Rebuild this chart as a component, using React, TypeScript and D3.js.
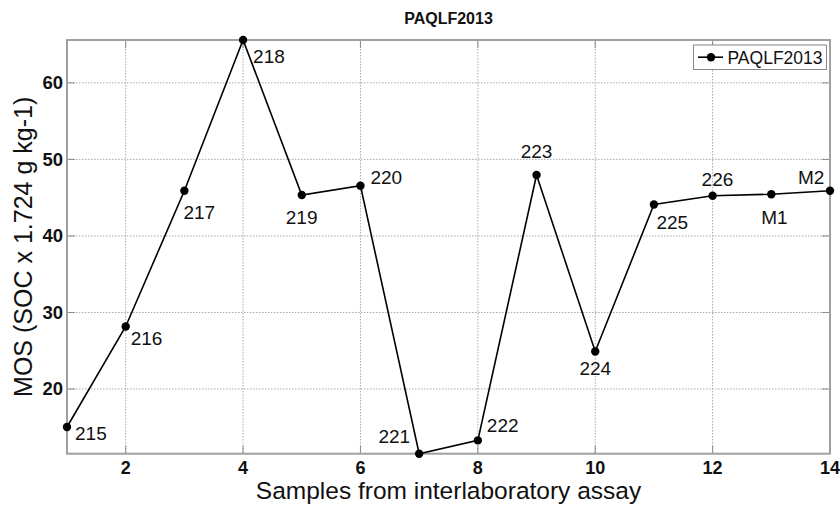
import React from "react";
import * as d3 from "d3";

const samples = [1, 2, 3, 4, 5, 6, 7, 8, 9, 10, 11, 12, 13, 14];
const mosValues = [15.04, 28.17, 45.9, 65.6, 45.35, 46.57, 11.55, 13.29, 47.96, 24.9, 44.1, 45.26, 45.45, 45.9];
const pointLabels = ["215", "216", "217", "218", "219", "220", "221", "222", "223", "224", "225", "226", "M1", "M2"];
const xTicks = [2, 4, 6, 8, 10, 12, 14];
const yTicks = [20, 30, 40, 50, 60];
const seriesName = "PAQLF2013";
const chartTitle = "PAQLF2013";
const xLabel = "Samples from interlaboratory assay";
const yLabel = "MOS (SOC x 1.724 g kg-1)";

// label placement (style): [dx, dy, anchor]
const labelPlacement: [number, number, string][] = [
  [8, 13.5, "start"],
  [5, 18.5, "start"],
  [-1, 28, "start"],
  [10, 23, "start"],
  [-16, 29, "start"],
  [10, -1.5, "start"],
  [-9, -10.5, "end"],
  [9, -8, "start"],
  [0, -17, "middle"],
  [0, 23.5, "middle"],
  [2.5, 24, "start"],
  [-11, -10, "start"],
  [-10, 30, "start"],
  [-32, -7, "start"],
];

const W = 840;
const H = 507;
const L = 67, R = 830, T = 40, B = 453.7;
const FONT = "'Liberation Sans', Arial, Helvetica, sans-serif";

export default function App() {
  const x = d3.scaleLinear().domain([1, 14]).range([L, R]);
  const y = d3.scaleLinear().domain([d3.min(mosValues)!, d3.max(mosValues)!]).range([B, T]);
  const line = d3.line<number>().x((_, i) => x(samples[i])).y((v) => y(v));
  const tickLen = 8;

  return (
    <svg width={W} height={H} style={{ position: "absolute", left: 0, top: 0, background: "#fff" }} fontFamily={FONT}>
      <rect x={0} y={0} width={W} height={H} fill="#fff" />
      {/* grid */}
      {xTicks.filter((t) => t < 14).map((t) => (
        <line key={"gx" + t} x1={x(t)} x2={x(t)} y1={T} y2={B} stroke="#a8a8a8" strokeWidth={1} strokeDasharray="1.5,1.5" />
      ))}
      {yTicks.map((t) => (
        <line key={"gy" + t} x1={L} x2={R} y1={y(t)} y2={y(t)} stroke="#a8a8a8" strokeWidth={1} strokeDasharray="1.5,1.5" />
      ))}
      {/* ticks */}
      {xTicks.map((t) => (
        <g key={"tx" + t}>
          <line x1={x(t)} x2={x(t)} y1={B} y2={B - tickLen} stroke="#8a8a8a" strokeWidth={1} />
          <line x1={x(t)} x2={x(t)} y1={T} y2={T + tickLen} stroke="#8a8a8a" strokeWidth={1} />
          <text x={x(t)} y={B + 20.5} textAnchor="middle" fontSize={18} fontWeight="bold" fill="#111">{t}</text>
        </g>
      ))}
      {yTicks.map((t) => (
        <g key={"ty" + t}>
          <line x1={L} x2={L + tickLen} y1={y(t)} y2={y(t)} stroke="#8a8a8a" strokeWidth={1} />
          <line x1={R} x2={R - tickLen} y1={y(t)} y2={y(t)} stroke="#8a8a8a" strokeWidth={1} />
          <text x={L - 4} y={y(t)} dy="0.35em" textAnchor="end" fontSize={18.5} fontWeight="bold" fill="#111">{t}</text>
        </g>
      ))}
      {/* frame */}
      <rect x={L} y={T} width={R - L} height={B - T} fill="none" stroke="#a0a0a0" strokeWidth={2} />
      {/* series */}
      <path d={line(mosValues) || ""} fill="none" stroke="#000" strokeWidth={1.6} />
      {mosValues.map((v, i) => (
        <circle key={"p" + i} cx={x(samples[i])} cy={y(v)} r={4.2} fill="#000" />
      ))}
      {mosValues.map((v, i) => {
        const [dx, dy, anchor] = labelPlacement[i];
        return (
          <text key={"l" + i} x={x(samples[i]) + dx} y={y(v) + dy} textAnchor={anchor as any} fontSize={19} fill="#111">
            {pointLabels[i]}
          </text>
        );
      })}
      {/* title */}
      <text x={(L + R) / 2} y={24} textAnchor="middle" fontSize={16} fontWeight="bold" fill="#111">{chartTitle}</text>
      {/* axis labels */}
      <text x={(L + R) / 2} y={499} textAnchor="middle" fontSize={24.5} fill="#111">{xLabel}</text>
      <text transform={`translate(32, ${(T + B) / 2}) rotate(-90)`} textAnchor="middle" fontSize={25} fill="#111">{yLabel}</text>
      {/* legend */}
      <g>
        <rect x={693.5} y={45} width={133} height={24.5} fill="#fff" stroke="#888" strokeWidth={1} />
        <line x1={698} x2={723} y1={57.2} y2={57.2} stroke="#000" strokeWidth={1.6} />
        <circle cx={711} cy={57.2} r={4.2} fill="#000" />
        <text x={727.5} y={63.5} fontSize={17.5} fill="#111">{seriesName}</text>
      </g>
    </svg>
  );
}
